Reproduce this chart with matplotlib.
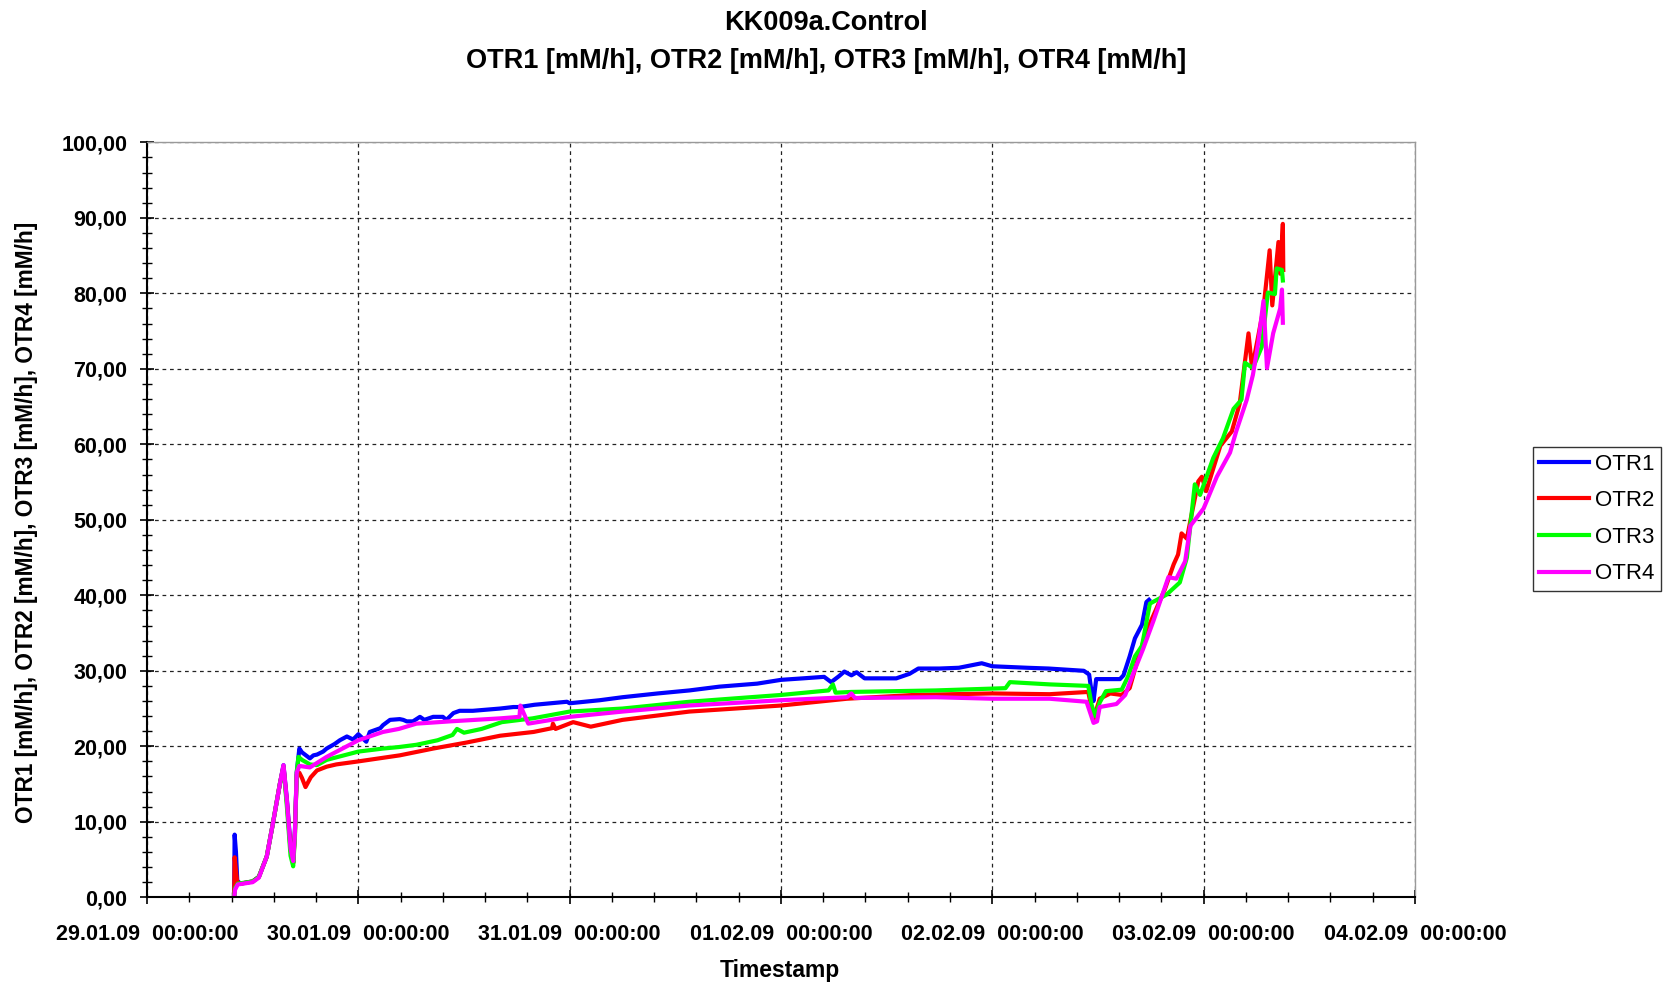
import matplotlib
matplotlib.use('Agg')
import matplotlib.pyplot as plt
import matplotlib.dates as mdates
from matplotlib.ticker import MultipleLocator, FuncFormatter
import pandas as pd

plt.rcParams['font.family'] = ['Liberation Sans', 'DejaVu Sans']

# hours after 29.01.09 00:00:00, values in mM/h
otr1_h = [9.9, 9.95, 10.1, 10.25, 10.6, 12.0, 12.7, 13.6, 14.3, 15.1, 15.5, 15.9, 16.3, 16.6, 16.8,
          17.0, 17.3, 17.6, 18.5, 18.9, 19.3, 20.0, 20.4, 21.3, 21.9, 22.7, 23.4, 24.0, 24.9, 25.3,
          26.5, 26.8, 27.6, 28.7, 29.1, 29.5, 30.2, 31.0, 31.5, 32.5, 33.6, 34.0, 34.8, 35.5, 37.0,
          40.1, 41.6, 42.3, 44.0, 47.7, 48.0, 51.4, 54.0, 58.0, 61.6, 65.0, 69.3, 72.0, 74.5, 76.9,
          77.7, 78.6, 79.2, 80.0, 80.6, 81.5, 85.1, 86.6, 87.6, 90.0, 92.2, 94.8, 96.0, 100.0, 102.4,
          106.4, 107.0, 107.3, 107.5, 107.8, 110.5, 110.9, 111.6, 112.2, 113.0, 113.5, 113.8]
otr1_v = [0.3, 8.3, 6.0, 2.2, 1.8, 2.1, 2.7, 5.4, 9.8, 15.1, 17.5, 12.8, 6.8, 4.6, 9.0,
          16.5, 19.7, 19.2, 18.4, 18.8, 18.9, 19.3, 19.7, 20.3, 20.8, 21.3, 20.9, 21.6, 20.6, 21.9,
          22.4, 22.8, 23.5, 23.6, 23.5, 23.3, 23.3, 23.9, 23.5, 23.9, 23.9, 23.5, 24.4, 24.7, 24.7,
          25.0, 25.2, 25.2, 25.5, 25.9, 25.7, 26.1, 26.5, 27.0, 27.4, 27.9, 28.3, 28.8, 29.0, 29.2,
          28.5, 29.3, 29.9, 29.4, 29.8, 29.0, 29.0, 29.6, 30.3, 30.3, 30.4, 31.0, 30.6, 30.4, 30.3,
          30.0, 29.5, 27.0, 26.0, 28.9, 28.9, 29.4, 31.9, 34.3, 36.1, 39.1, 39.4]

otr2_h = [9.9, 9.95, 10.1, 10.25, 10.6, 12.0, 12.7, 13.6, 14.3, 15.1, 15.5, 15.9, 16.3, 16.6, 16.8,
          17.0, 17.3, 17.6, 18.0, 18.6, 19.3, 20.4, 21.5, 24.0, 28.7, 32.5, 36.3, 40.1, 43.9, 46.0,
          46.1, 46.4, 48.4, 50.4, 54.0, 61.6, 72.0, 79.5, 87.1, 96.0, 102.5, 106.9, 107.3, 107.5,
          108.2, 109.4, 110.7, 111.6, 112.4, 113.5, 114.7, 115.6, 116.6, 117.1, 117.5, 118.1, 118.6,
          119.4, 119.8, 120.3, 121.9, 123.2, 124.1, 125.1, 125.5, 126.2, 126.8, 127.5, 127.8, 128.5,
          128.7, 129.0, 129.05]
otr2_v = [0.2, 5.3, 3.5, 2.0, 1.8, 2.1, 2.7, 5.4, 9.8, 15.1, 17.3, 12.4, 6.3, 4.5, 8.5,
          16.2, 16.5, 15.8, 14.6, 15.9, 16.8, 17.3, 17.6, 18.0, 18.8, 19.7, 20.5, 21.4, 21.9, 22.4,
          23.0, 22.3, 23.2, 22.6, 23.5, 24.6, 25.4, 26.3, 26.8, 27.0, 26.9, 27.2, 24.9, 23.6,
          26.3, 27.0, 26.8, 27.7, 31.0, 35.2, 38.4, 40.8, 44.1, 45.4, 48.2, 47.5, 50.5,
          55.1, 55.7, 53.8, 59.8, 61.7, 65.4, 74.7, 70.1, 74.3, 78.0, 85.7, 78.4, 86.8,
          82.6, 89.2, 83.1]

otr3_h = [9.9, 10.0, 10.3, 12.0, 12.7, 13.6, 14.3, 15.1, 15.5, 15.9, 16.3, 16.6, 16.8, 17.0, 17.2,
          17.6, 18.5, 19.3, 20.4, 24.0, 26.8, 28.6, 30.6, 33.0, 34.7, 35.2, 36.0, 38.0, 40.3, 43.8,
          48.0, 54.0, 61.6, 72.0, 77.4, 77.9, 78.2, 80.0, 89.6, 97.5, 98.0, 102.5, 106.9, 107.3,
          107.7, 108.2, 108.9, 110.7, 111.4, 112.2, 113.0, 113.9, 114.7, 115.8, 117.3, 118.1, 119.0,
          119.6, 121.1, 122.2, 123.4, 124.3, 124.7, 125.6, 126.6, 127.3, 128.1, 128.3, 128.9, 129.0]
otr3_v = [0.0, 1.2, 1.8, 2.1, 2.7, 5.4, 9.8, 15.1, 17.2, 11.8, 5.5, 4.1, 8.0, 16.5, 18.6,
          18.2, 17.6, 17.5, 18.2, 19.3, 19.7, 19.9, 20.2, 20.8, 21.5, 22.3, 21.8, 22.3, 23.2, 23.7,
          24.6, 25.0, 25.9, 26.8, 27.4, 28.2, 27.1, 27.2, 27.4, 27.7, 28.5, 28.2, 28.0, 25.4,
          24.0, 25.8, 27.3, 27.5, 29.2, 31.9, 33.3, 38.9, 39.4, 40.1, 41.7, 45.0, 54.7,
          53.3, 58.2, 60.8, 64.7, 65.9, 70.8, 70.1, 72.9, 80.1, 79.9, 83.3, 83.1, 81.7]

otr4_h = [9.9, 10.0, 10.3, 12.0, 12.7, 13.6, 14.3, 15.1, 15.5, 15.9, 16.3, 16.6, 16.8, 17.0, 17.3,
          18.5, 20.4, 24.0, 26.8, 28.6, 30.6, 34.4, 40.1, 42.3, 42.4, 43.3, 48.0, 54.0, 61.6, 72.0,
          79.5, 80.0, 80.4, 89.6, 96.0, 102.5, 106.7, 107.1, 107.5, 107.9, 108.2, 110.1, 111.1,
          112.0, 113.1, 114.3, 116.0, 116.9, 117.9, 118.5, 120.0, 121.5, 123.0, 123.7, 124.9, 125.6,
          126.2, 126.8, 127.2, 127.9, 128.7, 128.9, 129.0]
otr4_v = [0.0, 1.0, 1.7, 2.0, 2.6, 5.4, 9.8, 15.1, 17.5, 12.6, 6.5, 4.8, 8.5, 16.5, 17.4,
          17.2, 18.6, 20.8, 21.9, 22.3, 23.0, 23.3, 23.7, 23.9, 25.4, 23.0, 23.9, 24.6, 25.4, 26.1,
          26.5, 27.0, 26.4, 26.5, 26.3, 26.3, 25.9, 24.5, 23.1, 23.3, 25.2, 25.6, 26.8,
          29.6, 32.8, 36.6, 42.4, 42.2, 44.5, 49.2, 51.5, 55.7, 58.9, 61.7, 65.9, 69.2,
          73.4, 79.0, 70.1, 74.7, 78.0, 80.5, 76.1]

start = pd.Timestamp('2009-01-29 00:00:00')
end = pd.Timestamp('2009-02-04 00:00:00')


def to_time(hours):
    return start + pd.to_timedelta(hours, unit='h')


fig = plt.figure(figsize=(16.65, 9.83), dpi=100)
ax = fig.add_axes([0.0883, 0.0872, 0.7615, 0.768])

ax.plot(to_time(otr1_h), otr1_v, color='#0000FF', lw=3.0, label='OTR1')
ax.plot(to_time(otr2_h), otr2_v, color='#FF0000', lw=3.0, label='OTR2')
ax.plot(to_time(otr3_h), otr3_v, color='#00FF00', lw=3.0, label='OTR3')
ax.plot(to_time(otr4_h), otr4_v, color='#FF00FF', lw=3.0, label='OTR4')

ax.set_xlim(start, end)
ax.set_ylim(0, 100)

ax.xaxis.set_major_locator(MultipleLocator(1))
ax.xaxis.set_minor_locator(MultipleLocator(0.2))
ax.xaxis.set_major_formatter(mdates.DateFormatter('%d.%m.%y  %H:%M:%S'))
ax.yaxis.set_major_locator(MultipleLocator(10))
ax.yaxis.set_minor_locator(MultipleLocator(2))
ax.yaxis.set_major_formatter(FuncFormatter(lambda v, p: f'{v:.2f}'.replace('.', ',')))

ax.tick_params(which='major', direction='inout', length=10, width=1.2, labelsize=15.5)
ax.tick_params(which='minor', direction='inout', length=7, width=1.0)
ax.tick_params(axis='x', which='major', pad=14)
ax.tick_params(axis='y', which='major', pad=9)
for lab in ax.get_xticklabels() + ax.get_yticklabels():
    lab.set_fontweight('bold')

ax.grid(True, which='major', color='#222222', linestyle=(0, (3, 3)), lw=0.9)

for s in ['left', 'bottom']:
    ax.spines[s].set_color('black')
    ax.spines[s].set_linewidth(1.5)
for s in ['top', 'right']:
    ax.spines[s].set_color('#999999')
    ax.spines[s].set_linewidth(1.0)

leg = ax.legend(loc='upper left', bbox_to_anchor=(1.093, 0.5964), borderaxespad=0,
                fontsize=16, frameon=True, fancybox=False, edgecolor='black',
                handlelength=2.25, handletextpad=0.25, borderpad=0.3, labelspacing=0.7)
leg.get_frame().set_linewidth(1.0)
for line in leg.get_lines():
    line.set_linewidth(3)

fig.text(0.496, 1 - 23 / 983, 'KK009a.Control', ha='center', va='center',
         fontsize=19.5, fontweight='bold')
fig.text(0.496, 1 - 61 / 983, 'OTR1 [mM/h], OTR2 [mM/h], OTR3 [mM/h], OTR4 [mM/h]',
         ha='center', va='center', fontsize=19.5, fontweight='bold')
fig.text(27 / 1665, 1 - 522 / 983, 'OTR1 [mM/h], OTR2 [mM/h], OTR3 [mM/h], OTR4 [mM/h]',
         ha='center', va='center', rotation=90, fontsize=16.3, fontweight='bold')
fig.text(780 / 1665, 1 - 970 / 983, 'Timestamp', ha='center', va='center',
         fontsize=16.5, fontweight='bold')

fig.savefig('out.png', dpi=100)
